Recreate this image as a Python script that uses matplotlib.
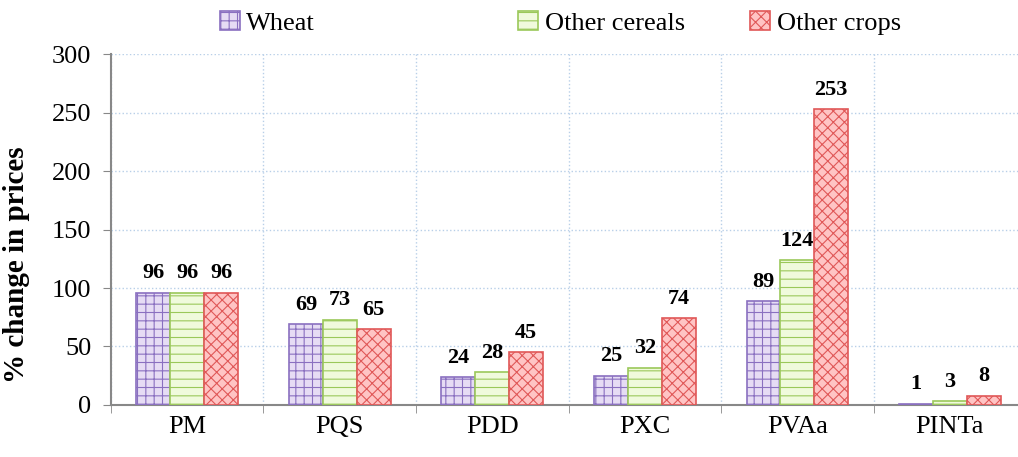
import numpy as np
import matplotlib
matplotlib.use("Agg")
import matplotlib.pyplot as plt

plt.rcParams['font.family'] = ['Liberation Serif', 'DejaVu Serif']
plt.rcParams['hatch.linewidth'] = 0.8

categories = ["PM", "PQS", "PDD", "PXC", "PVAa", "PINTa"]
wheat = [96, 69, 24, 25, 89, 1]
other_cereals = [96, 73, 28, 32, 124, 3]
other_crops = [96, 65, 45, 74, 253, 8]

series = [
    ("Wheat", wheat, "#e6dcf4", "#8a70c0", "++"),
    ("Other cereals", other_cereals, "#f0fadc", "#9bc85a", "--"),
    ("Other crops", other_crops, "#ffc4c4", "#e05858", "xxx"),
]
legend_x = [0.198, 0.491, 0.719]  # left edge of each legend entry (figure fraction)

fig = plt.figure(figsize=(10.18, 4.57), dpi=100)
ax = fig.add_axes([0.109, 0.1138, 0.899, 0.768])

x = np.arange(len(categories))
w = 0.222
handles = []
for k, (name, vals, fc, ec, hatch) in enumerate(series):
    pos = x + (k - 1) * w
    bars = ax.bar(pos, vals, w, facecolor=fc, edgecolor=ec, hatch=hatch,
                  linewidth=1.2, label=name, zorder=3)
    handles.append(bars)
    for b, v in zip(bars, vals):
        ax.text(b.get_x() + b.get_width() / 2, v + 8, str(v), ha="center",
                va="bottom", fontsize=16, fontweight="bold", zorder=4)

ax.set_xlim(-0.5, len(categories) - 0.5)
ax.set_ylim(0, 300)
ax.set_yticks(range(0, 301, 50))
ax.set_xticks(x)
ax.set_xticklabels(categories)
ax.set_xticks(np.arange(-0.5, len(categories), 1), minor=True)
ax.tick_params(axis="x", which="major", length=0, labelsize=19, pad=8)
ax.tick_params(axis="x", which="minor", length=6, color="#888888", direction="out")
ax.tick_params(axis="y", labelsize=19, length=6, color="#888888", pad=8)
ax.grid(axis="y", color="#b8cfe8", linestyle=":", linewidth=1, zorder=0)
ax.grid(axis="x", which="minor", color="#b8cfe8", linestyle=":", linewidth=1, zorder=0)
for s in ["top", "right"]:
    ax.spines[s].set_visible(False)
for s in ["left", "bottom"]:
    ax.spines[s].set_color("#888888")
    ax.spines[s].set_linewidth(1.5)
ax.set_ylabel("% change in prices", fontsize=21, fontweight="bold")
ax.yaxis.set_label_coords(-0.088, 0.4)

for h, (name, *_), lx in zip(handles, series, legend_x):
    fig.legend([h], [name], loc="upper left", bbox_to_anchor=(lx, 1.016), frameon=False,
               fontsize=19, handlelength=0.75, handleheight=0.75, handletextpad=0.25,
               borderaxespad=0.3)

fig.savefig("out.png", dpi=100)
